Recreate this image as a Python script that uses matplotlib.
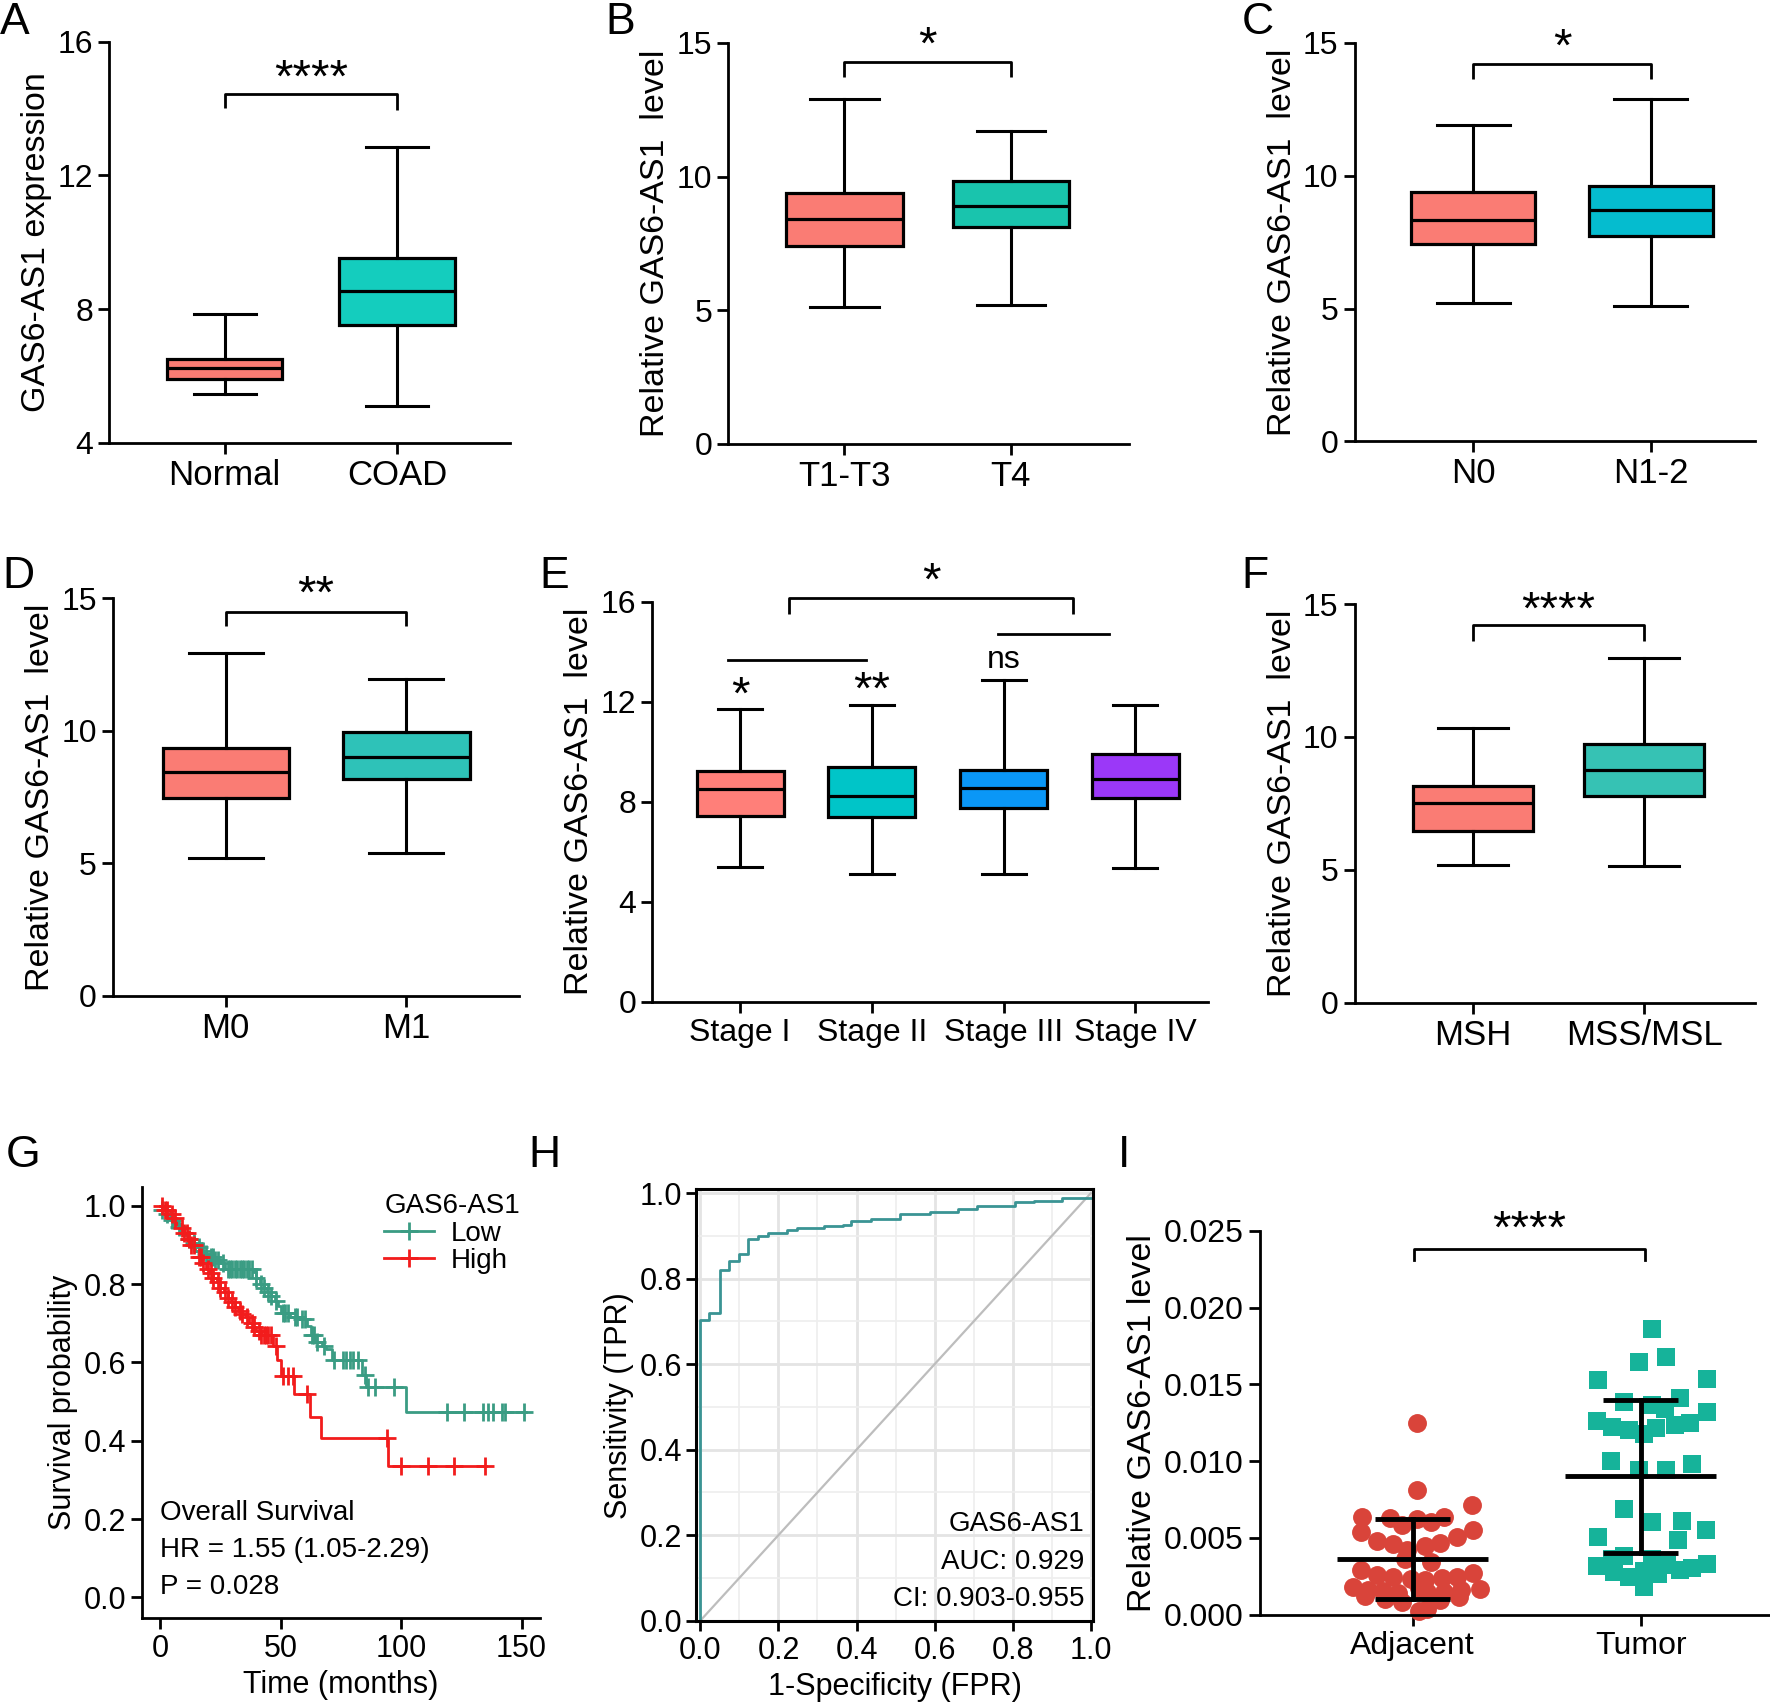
import numpy as np
import matplotlib
matplotlib.use('Agg')
import matplotlib.pyplot as plt
from matplotlib.lines import Line2D

plt.rcParams['font.family'] = ['Liberation Sans', 'DejaVu Sans']
NARROW = ['Liberation Sans Narrow', 'Liberation Sans', 'DejaVu Sans']

# ---------------- data ----------------
A_cats = ['Normal', 'COAD']
A_q1 = [5.90, 7.52]; A_med = [6.24, 8.54]; A_q3 = [6.49, 9.54]
A_lo = [5.46, 5.11]; A_hi = [7.85, 12.85]

B_cats = ['T1-T3', 'T4']
B_q1 = [7.40, 8.10]; B_med = [8.40, 8.90]; B_q3 = [9.40, 9.85]
B_lo = [5.10, 5.20]; B_hi = [12.90, 11.70]

C_cats = ['N0', 'N1-2']
C_q1 = [7.45, 7.75]; C_med = [8.35, 8.70]; C_q3 = [9.40, 9.60]
C_lo = [5.20, 5.10]; C_hi = [11.90, 12.90]

D_cats = ['M0', 'M1']
D_q1 = [7.46, 8.18]; D_med = [8.44, 9.00]; D_q3 = [9.37, 9.95]
D_lo = [5.20, 5.41]; D_hi = [12.95, 11.95]

E_cats = ['Stage I', 'Stage II', 'Stage III', 'Stage IV']
E_q1 = [7.44, 7.37, 7.73, 8.15]; E_med = [8.50, 8.21, 8.54, 8.91]
E_q3 = [9.24, 9.39, 9.28, 9.89]
E_lo = [5.37, 5.11, 5.10, 5.33]; E_hi = [11.70, 11.86, 12.87, 11.86]

F_cats = ['MSH', 'MSS/MSL']
F_q1 = [6.46, 7.78]; F_med = [7.52, 8.75]; F_q3 = [8.16, 9.73]
F_lo = [5.18, 5.14]; F_hi = [10.33, 12.96]

# Kaplan-Meier (panel G)
low_time = [0, 1, 2.5, 4, 5.5, 7, 8.5, 10, 11.5, 13, 15, 17, 19, 21, 23, 25, 27,
            38.5, 40, 41.5, 43, 44.5, 46, 47.5, 49, 50, 54, 58, 61, 62.5, 64.5, 67,
            69, 71.3, 84, 85.4, 102.2, 152]
low_surv = [1.0, 0.99, 0.98, 0.965, 0.955, 0.945, 0.935, 0.925, 0.915, 0.905, 0.895,
            0.885, 0.877, 0.87, 0.862, 0.855, 0.84, 0.83, 0.815, 0.80, 0.79, 0.78,
            0.77, 0.758, 0.745, 0.726, 0.717, 0.712, 0.694, 0.671, 0.652, 0.643,
            0.634, 0.606, 0.569, 0.537, 0.474, 0.474]
low_censor = [1, 3, 5, 8, 12, 14, 16, 18, 19, 21, 22, 23, 24, 26, 28, 29, 30, 31, 32,
              33, 34, 35, 36, 37, 38, 40, 42, 43, 45, 46, 48, 51, 52, 53, 56, 57, 59,
              60, 63, 64, 65, 68, 72, 76, 77, 79, 80, 82, 85, 86.5, 89, 97, 119, 126,
              134, 136, 138, 142, 143, 151]
high_time = [0, 2, 4, 5.5, 7, 8.5, 10, 11.5, 13, 14.5, 16, 17.5, 19, 20.5, 22, 23.5,
             25, 26.5, 28, 29.5, 31, 32.5, 34, 35.5, 37, 38.5, 40, 42, 47, 48.5, 50,
             55.7, 62.1, 66.9, 94.4, 135.2]
high_surv = [1.0, 0.99, 0.98, 0.97, 0.955, 0.943, 0.93, 0.915, 0.9, 0.885, 0.87, 0.855,
             0.84, 0.828, 0.815, 0.805, 0.79, 0.78, 0.765, 0.754, 0.742, 0.731, 0.724,
             0.717, 0.70, 0.69, 0.68, 0.671, 0.643, 0.606, 0.565, 0.519, 0.461, 0.406,
             0.336, 0.336]
high_censor = [1, 2, 3, 5, 6, 9, 10, 11, 12, 13, 14, 16, 17, 18, 20, 21, 22, 24, 25, 27,
               28, 30, 31, 33, 34, 36, 38, 39, 41, 42, 43, 44, 45, 46, 48, 51, 53, 55,
               61, 94, 100, 111, 122, 135]

# ROC (panel H)
roc_fpr = [0.0, 0.0, 0.022, 0.022, 0.049, 0.049, 0.073, 0.073, 0.098, 0.098, 0.1225,
           0.1225, 0.147, 0.147, 0.172, 0.172, 0.221, 0.221, 0.247, 0.247, 0.317, 0.317,
           0.365, 0.365, 0.387, 0.387, 0.437, 0.437, 0.512, 0.512, 0.587, 0.587, 0.66,
           0.66, 0.708, 0.708, 0.805, 0.805, 0.855, 0.855, 0.927, 0.927, 1.0]
roc_tpr = [0.0, 0.704, 0.704, 0.719, 0.719, 0.821, 0.821, 0.841, 0.841, 0.858, 0.858,
           0.892, 0.892, 0.899, 0.899, 0.907, 0.907, 0.914, 0.914, 0.919, 0.919, 0.924,
           0.924, 0.926, 0.926, 0.934, 0.934, 0.939, 0.939, 0.951, 0.951, 0.955, 0.955,
           0.964, 0.964, 0.970, 0.970, 0.979, 0.979, 0.981, 0.981, 0.990, 0.990]

# Dot plot (panel I)
I_cats = ['Adjacent', 'Tumor']
adj_vals = [0.0125, 0.0081, 0.00716, 0.00637, 0.0063, 0.0062, 0.00606, 0.00637, 0.00583,
            0.00553, 0.00536, 0.00478, 0.00506, 0.00459, 0.0045, 0.00466, 0.0042, 0.0036,
            0.00343, 0.0029, 0.00257, 0.00245, 0.00233, 0.00226, 0.0024, 0.00245, 0.0027,
            0.0018, 0.00163, 0.00156, 0.0014, 0.00175, 0.0015, 0.0015, 0.00163, 0.0017,
            0.00124, 0.00105, 0.0008, 0.00093, 0.00117, 0.00023, 0.00035]
adj_offset = [0.019, 0.019, 0.262, -0.223, -0.099, 0.019, 0.080, 0.139, -0.046, 0.266,
              -0.227, -0.158, 0.195, -0.084, 0.056, 0.121, -0.024, -0.035, 0.080, -0.227,
              -0.158, -0.084, -0.009, 0.056, 0.130, 0.195, 0.266, -0.260, -0.195, -0.130,
              -0.065, 0.028, 0.065, 0.139, 0.214, 0.297, -0.210, -0.121, -0.046, 0.121,
              0.204, 0.028, 0.065]
tum_vals = [0.01861, 0.01677, 0.01644, 0.01528, 0.01535, 0.01411, 0.01383, 0.01364,
            0.01341, 0.01318, 0.01259, 0.01224, 0.01201, 0.01178, 0.01213, 0.01236,
            0.01248, 0.01003, 0.0098, 0.00944, 0.0094, 0.00688, 0.00606, 0.00506,
            0.00613, 0.00553, 0.00483, 0.00315, 0.00361, 0.00385, 0.00361, 0.00326,
            0.00333, 0.00303, 0.0028, 0.00245, 0.00287, 0.00268, 0.00292, 0.0018]
tum_offset = [0.050, 0.110, -0.009, -0.188, 0.292, 0.171, -0.071, 0.050, 0.106, 0.292,
              -0.191, -0.126, -0.052, 0.013, 0.069, 0.152, 0.217, -0.132, 0.227, -0.009,
              0.110, -0.071, 0.050, -0.188, 0.180, 0.288, 0.165, -0.191, -0.126, -0.071,
              0.050, 0.115, 0.292, 0.227, -0.117, -0.052, 0.013, 0.078, 0.171, 0.013]
I_mean = [0.0036, 0.0090]
I_sd = [0.0026, 0.0050]

# ---------------- layout helpers ----------------
SW, SH = 1568, 1510


def rect(l, t, r, b):
    return [l / SW, 1 - b / SH, (r - l) / SW, (b - t) / SH]


fig = plt.figure(figsize=(17.7, 17.05), dpi=100)

SALMON = '#FA7C74'
TICKFS = 23
CATFS = 25
LABFS = 24.5
STARFS = 34


def style_axes(ax):
    for s in ['top', 'right']:
        ax.spines[s].set_visible(False)
    for s in ['left', 'bottom']:
        ax.spines[s].set_linewidth(2.0)
    ax.tick_params(width=2.0, length=8, labelsize=TICKFS, colors='black')


def bracket(ax, x1, x2, y, dl, dr, text, ty, fs=STARFS):
    ax.plot([x1, x1, x2, x2], [y - dl, y, y, y - dr], color='black', lw=2.0,
            clip_on=False, solid_capstyle='butt')
    ax.text((x1 + x2) / 2, ty, text, ha='center', va='center', fontsize=fs,
            clip_on=False)


def box_panel(r, cats, q1, med, q3, lo, hi, colors, ylim, yticks, xlim, ylabel,
              width=0.67, capw=0.36, catfs=CATFS):
    ax = fig.add_axes(r)
    stats = [dict(q1=a, med=b, q3=c, whislo=d, whishi=e, fliers=[])
             for a, b, c, d, e in zip(q1, med, q3, lo, hi)]
    bp = ax.bxp(stats, positions=list(range(len(cats))), widths=width,
                patch_artist=True, capwidths=capw, showfliers=False,
                boxprops=dict(linewidth=2.3, edgecolor='black'),
                medianprops=dict(color='black', linewidth=2.3),
                whiskerprops=dict(linewidth=2.2, color='black'),
                capprops=dict(linewidth=2.2, color='black'))
    for patch, c in zip(bp['boxes'], colors):
        patch.set_facecolor(c)
    ax.set_xlim(xlim)
    ax.set_ylim(ylim)
    ax.set_yticks(yticks)
    ax.set_xticks(list(range(len(cats))))
    ax.set_xticklabels(cats, fontsize=catfs)
    ax.set_ylabel(ylabel, fontsize=LABFS)
    style_axes(ax)
    ax.tick_params(axis='x', labelsize=catfs)
    return ax


def letter(x, y, s):
    fig.text(x / SW, 1 - y / SH, s, fontsize=32, va='top', ha='left')


# ---------------- Panel A ----------------
axA = box_panel(rect(97, 37, 452, 392), A_cats, A_q1, A_med, A_q3, A_lo, A_hi,
                [SALMON, '#14CDBE'], (4, 16), [4, 8, 12, 16], (-0.667, 1.656),
                'GAS6-AS1 expression')
bracket(axA, 0, 1, 14.44, 0.42, 0.48, '****', 14.85)
letter(0, 2, 'A')

# ---------------- Panel B ----------------
axB = box_panel(rect(645, 38, 1000, 393), B_cats, B_q1, B_med, B_q3, B_lo, B_hi,
                [SALMON, '#19C4AD'], (0, 15), [0, 5, 10, 15], (-0.70, 1.71),
                'Relative GAS6-AS1  level', width=0.70, capw=0.41)
bracket(axB, 0, 1, 14.28, 0.55, 0.55, '*', 14.85)
letter(536, 2, 'B')

# ---------------- Panel C ----------------
axC = box_panel(rect(1200, 38, 1555, 391), C_cats, C_q1, C_med, C_q3, C_lo, C_hi,
                [SALMON, '#05BCCF'], (0, 15), [0, 5, 10, 15], (-0.67, 1.59),
                'Relative GAS6-AS1  level', width=0.70, capw=0.41)
bracket(axC, 0, 1, 14.2, 0.55, 0.55, '*', 14.8)
letter(1100, 2, 'C')

# ---------------- Panel D ----------------
axD = box_panel(rect(100, 530, 460, 882), D_cats, D_q1, D_med, D_q3, D_lo, D_hi,
                [SALMON, '#2EC2B8'], (0, 15), [0, 5, 10, 15], (-0.625, 1.625),
                'Relative GAS6-AS1  level', width=0.70, capw=0.41)
bracket(axD, 0, 1, 14.5, 0.55, 0.55, '**', 15.1)
letter(2, 492, 'D')

# ---------------- Panel E ----------------
axE = box_panel(rect(578, 533, 1070, 887), E_cats, E_q1, E_med, E_q3, E_lo, E_hi,
                ['#FF7F79', '#00C5C8', '#0A97F7', '#9B38F8'], (0, 16), [0, 4, 8, 12, 16],
                (-0.665, 3.55), 'Relative GAS6-AS1  level', width=0.66, capw=0.335,
                catfs=23)
axE.plot([-0.094, 0.956], [13.68, 13.68], color='black', lw=2.0, clip_on=False)
axE.plot([1.96, 2.80], [14.71, 14.71], color='black', lw=2.0, clip_on=False)
bracket(axE, 0.37, 2.53, 16.14, 0.64, 0.64, '*', 16.75)
axE.text(0, 12.2, '*', ha='center', va='center', fontsize=STARFS, clip_on=False)
axE.text(1, 12.4, '**', ha='center', va='center', fontsize=STARFS, clip_on=False)
axE.text(2, 13.68, 'ns', ha='center', va='center', fontsize=TICKFS, clip_on=False)
letter(478, 492, 'E')

# ---------------- Panel F ----------------
axF = box_panel(rect(1200, 535, 1555, 888), F_cats, F_q1, F_med, F_q3, F_lo, F_hi,
                [SALMON, '#36C2B4'], (0, 15), [0, 5, 10, 15], (-0.69, 1.65),
                'Relative GAS6-AS1  level', width=0.70, capw=0.41)
bracket(axF, 0, 1, 14.2, 0.6, 0.6, '****', 14.7)
letter(1100, 492, 'F')

# ---------------- Panel G (Kaplan-Meier) ----------------
LOWC = '#3A9C83'
HIGHC = '#F21C1C'
axG = fig.add_axes(rect(126, 1051, 478, 1433))


def surv_at(times, surv, t):
    idx = np.searchsorted(np.asarray(times), np.asarray(t), side='right') - 1
    return np.asarray(surv)[idx]


axG.step(low_time, low_surv, where='post', color=LOWC, lw=2.0)
axG.step(high_time, high_surv, where='post', color=HIGHC, lw=2.0)
axG.plot(low_censor, surv_at(low_time, low_surv, low_censor), ls='none', marker='+',
         ms=13, mew=2.0, color=LOWC)
axG.plot(high_censor, surv_at(high_time, high_surv, high_censor), ls='none',
         marker='+', ms=13, mew=2.0, color=HIGHC)
axG.set_xlim(-7.4, 157.5)
axG.set_ylim(-0.053, 1.049)
axG.set_xticks([0, 50, 100, 150])
axG.set_yticks([0.0, 0.2, 0.4, 0.6, 0.8, 1.0])
axG.set_yticklabels(['0.0', '0.2', '0.4', '0.6', '0.8', '1.0'])
style_axes(axG)
axG.tick_params(labelsize=22)
axG.set_ylabel('Survival probability', fontsize=22)
axG.set_xlabel('Time (months)', fontsize=22)
axG.text(0, 0.216, 'Overall Survival', fontsize=20, va='center', ha='left')
axG.text(0, 0.121, 'HR = 1.55 (1.05-2.29)', fontsize=20, va='center', ha='left')
axG.text(0, 0.026, 'P = 0.028', fontsize=20, va='center', ha='left')
handles = [Line2D([], [], color=LOWC, lw=2, marker='+', ms=13, mew=2),
           Line2D([], [], color=HIGHC, lw=2, marker='+', ms=13, mew=2)]
legG = axG.legend(handles, ['Low', 'High'], title='GAS6-AS1', loc='upper right',
                  bbox_to_anchor=(1.0, 1.03), frameon=False, fontsize=20,
                  title_fontsize=20, handlelength=1.8, labelspacing=0.05,
                  borderpad=0.2, handletextpad=0.6)
legG._legend_box.align = 'left'
letter(5, 1005, 'G')

# ---------------- Panel H (ROC) ----------------
ROCC = '#3A9494'
axH = fig.add_axes(rect(617, 1053, 968, 1436))
axH.set_xlim(-0.01, 1.005)
axH.set_ylim(-0.002, 1.01)
axH.set_xticks(np.arange(0, 1.01, 0.2))
axH.set_yticks(np.arange(0, 1.01, 0.2))
axH.set_xticks(np.arange(0.1, 1.0, 0.2), minor=True)
axH.set_yticks(np.arange(0.1, 1.0, 0.2), minor=True)
axH.set_xticklabels(['0.0', '0.2', '0.4', '0.6', '0.8', '1.0'])
axH.set_yticklabels(['0.0', '0.2', '0.4', '0.6', '0.8', '1.0'])
axH.grid(which='major', color='#E4E4E4', lw=2.0)
axH.grid(which='minor', color='#EEEEEE', lw=1.2)
axH.set_axisbelow(True)
axH.plot([0, 1], [0, 1], color='#BDBDBD', lw=1.6)
axH.plot(roc_fpr, roc_tpr, color=ROCC, lw=2.0)
for s in axH.spines.values():
    s.set_linewidth(2.2)
axH.tick_params(which='major', width=2.0, length=7, labelsize=22)
axH.tick_params(which='minor', length=0)
axH.set_xlabel('1-Specificity (FPR)', fontsize=22)
axH.set_ylabel('Sensitivity (TPR)', fontsize=22)
axH.text(0.983, 0.225, 'GAS6-AS1', ha='right', va='center', fontsize=20)
axH.text(0.983, 0.138, 'AUC: 0.929', ha='right', va='center', fontsize=20)
axH.text(0.983, 0.05, 'CI: 0.903-0.955', ha='right', va='center', fontsize=20)
letter(468, 1005, 'H')

# ---------------- Panel I (dot plot) ----------------
axI = fig.add_axes(rect(1116, 1090, 1568, 1430))
axI.scatter(np.array(adj_offset) + 0, adj_vals, s=185, marker='o', color='#D9443A',
            zorder=2, clip_on=False, linewidths=0)
axI.scatter(np.array(tum_offset) + 1, tum_vals, s=185, marker='s', color='#16B39A',
            zorder=2, clip_on=False, linewidths=0)
for i in range(2):
    axI.plot([i - 0.33, i + 0.33], [I_mean[i], I_mean[i]], color='black', lw=3.5,
             zorder=3, solid_capstyle='butt')
    axI.plot([i, i], [I_mean[i] - I_sd[i], I_mean[i] + I_sd[i]], color='black', lw=3.5,
             zorder=3)
    for yy in (I_mean[i] - I_sd[i], I_mean[i] + I_sd[i]):
        axI.plot([i - 0.165, i + 0.165], [yy, yy], color='black', lw=3.5, zorder=3,
                 solid_capstyle='butt')
axI.set_xlim(-0.67, 1.567)
axI.set_ylim(0, 0.025)
axI.set_yticks([0.0, 0.005, 0.010, 0.015, 0.020, 0.025])
axI.set_yticklabels(['0.000', '0.005', '0.010', '0.015', '0.020', '0.025'],
                    family=NARROW)
axI.set_xticks([0, 1])
axI.set_xticklabels(I_cats, family=NARROW, fontsize=CATFS)
style_axes(axI)
axI.tick_params(axis='y', labelsize=TICKFS)
axI.set_ylabel('Relative GAS6-AS1 level', fontsize=LABFS, family=NARROW)
axI.plot([0.005, 0.005, 1.02, 1.02], [0.0231, 0.02381, 0.02381, 0.0231], color='black',
         lw=2.0, clip_on=False)
axI.text(0.51, 0.0250, '****', ha='center', va='center', fontsize=STARFS,
         family=NARROW, clip_on=False)
letter(990, 1005, 'I')

fig.savefig('out.png', dpi=100)
